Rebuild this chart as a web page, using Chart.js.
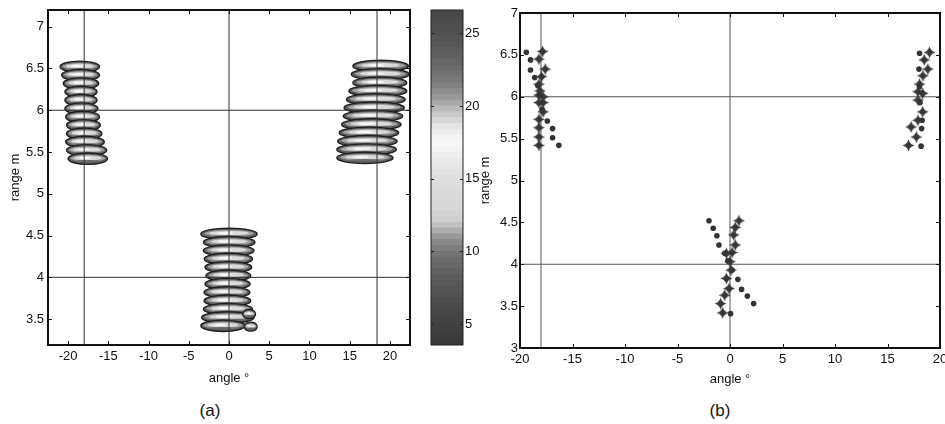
<!DOCTYPE html>
<html>
<head>
<meta charset="utf-8">
<script src="https://cdn.jsdelivr.net/npm/chart.js@4.4.1/dist/chart.umd.min.js"></script>
<style>
  html, body { margin: 0; padding: 0; background: #fff; }
  #fig { position: relative; width: 945px; height: 424px; overflow: hidden; background: #fff; }
  #fig canvas { position: absolute; }
  .cap { position: absolute; font: 17px "Liberation Sans", Arial, sans-serif; color: #111;
         transform: translate(-50%, -50%); white-space: nowrap; }
</style>
</head>
<body>
<div id="fig">
  <canvas id="imgA" width="420" height="386" style="left:0;top:0"></canvas>
  <canvas id="cbar" width="55" height="390" style="left:425px;top:0"></canvas>
  <canvas id="ptsB" width="475" height="387" style="left:470px;top:0"></canvas>
  <div class="cap" style="left:210px;top:411px">(a)</div>
  <div class="cap" style="left:720px;top:411px">(b)</div>
</div>
<script>
// ---------- panel (a): beamformed image, one ridge per range bin ----------
// angle centre (deg), range (m), angular half-width (deg)
const leftRidgeAngle   = [-18.55, -18.45, -18.4, -18.4, -18.4, -18.35, -18.2, -18.1, -18.0, -17.9, -17.7, -17.55];
const leftRidgeRange   = [6.52, 6.42, 6.32, 6.22, 6.12, 6.02, 5.92, 5.82, 5.72, 5.62, 5.52, 5.42];
const leftRidgeSpread  = [2.45, 2.35, 2.2, 2.0, 2.0, 2.05, 2.1, 2.1, 2.2, 2.4, 2.5, 2.45];

const centerRidgeAngle  = [0.0, 0.02, -0.04, -0.08, -0.08, -0.08, -0.18, -0.25, -0.2, -0.13, -0.15, -0.75, 2.5, 2.7];
const centerRidgeRange  = [4.52, 4.42, 4.32, 4.22, 4.12, 4.02, 3.92, 3.82, 3.72, 3.62, 3.52, 3.42, 3.56, 3.41];
const centerRidgeSpread = [3.5, 3.2, 3.15, 3.0, 2.9, 2.78, 2.8, 2.85, 2.9, 3.05, 3.25, 2.75, 0.8, 0.8];

const rightRidgeAngle  = [18.85, 18.8, 18.75, 18.5, 18.25, 18.05, 17.9, 17.7, 17.4, 17.2, 17.1, 16.9];
const rightRidgeRange  = [6.53, 6.43, 6.33, 6.23, 6.13, 6.03, 5.93, 5.83, 5.73, 5.63, 5.53, 5.43];
const rightRidgeSpread = [3.45, 3.6, 3.35, 3.6, 3.65, 3.75, 3.7, 3.7, 3.7, 3.7, 3.7, 3.5];

const angleTicksA = [-20, -15, -10, -5, 0, 5, 10, 15, 20];
const angleLabelsA = ['-20', '-15', '-10', '-5', '0', '5', '10', '15', '20'];
const rangeTicksA = [3.5, 4, 4.5, 5, 5.5, 6, 6.5, 7];
const rangeLabelsA = ['3.5', '4', '4.5', '5', '5.5', '6', '6.5', '7'];
const markerAnglesA = [-18, 0, 18.4];
const markerRangesA = [4, 6];

// ---------- colour scale ----------
const cbarLevels = [3.56, 6, 8, 9.5, 10.5, 11.3, 12, 13, 15, 16.5, 17.5, 18.5, 19.5, 20.5, 21.5, 23, 25, 26.6];
const cbarGray   = [0x38, 0x48, 0x5a, 0x6e, 0x85, 0xa8, 0xcf, 0xd8, 0xde, 0xee, 0xf8, 0xe6, 0xc4, 0x9a, 0x7d, 0x64, 0x50, 0x47];
const cbarTicks  = [5, 10, 15, 20, 25];
const cbarLabels = ['5', '10', '15', '20', '25'];

// ---------- panel (b): estimated target positions ----------
const leftStarAngle = [-18.2, -18.2, -18.2, -18.2, -17.8, -18.2, -17.8, -18.2, -17.8, -18.1, -18.2, -17.95, -17.6, -18.2, -17.85];
const leftStarRange = [5.42, 5.52, 5.63, 5.73, 5.82, 5.93, 5.93, 6.02, 6.0, 6.07, 6.15, 6.24, 6.33, 6.45, 6.54];
const leftDotAngle  = [-19.4, -19.0, -19.0, -18.6, -18.3, -18.1, -17.9, -17.4, -16.9, -16.9, -16.3];
const leftDotRange  = [6.53, 6.44, 6.32, 6.23, 6.13, 6.02, 5.85, 5.71, 5.62, 5.51, 5.42];

const centerStarAngle = [0.85, 0.5, 0.35, 0.5, 0.2, -0.35, 0.0, 0.1, -0.35, -0.1, -0.5, -0.9, -0.7];
const centerStarRange = [4.52, 4.44, 4.35, 4.23, 4.14, 4.13, 4.03, 3.93, 3.83, 3.71, 3.63, 3.53, 3.42];
const centerDotAngle  = [-2.0, -1.6, -1.25, -1.05, -0.5, -0.2, 0.2, 0.75, 1.1, 1.65, 2.25, 0.05];
const centerDotRange  = [4.52, 4.43, 4.34, 4.23, 4.13, 4.04, 3.93, 3.82, 3.70, 3.62, 3.53, 3.41];

const rightStarAngle = [17.0, 17.75, 17.25, 17.9, 18.35, 17.9, 18.35, 17.9, 18.05, 18.37, 18.84, 18.5, 19.0];
const rightStarRange = [5.42, 5.52, 5.64, 5.72, 5.82, 5.96, 6.04, 6.06, 6.15, 6.25, 6.33, 6.44, 6.53];
const rightDotAngle  = [18.2, 18.25, 18.3, 18.1, 18.05, 18.0, 18.05];
const rightDotRange  = [5.41, 5.62, 5.72, 5.93, 6.12, 6.33, 6.52];

const angleTicksB = [-20, -15, -10, -5, 0, 5, 10, 15, 20];
const angleLabelsB = ['-20', '-15', '-10', '-5', '0', '5', '10', '15', '20'];
const rangeTicksB = [3, 3.5, 4, 4.5, 5, 5.5, 6, 6.5, 7];
const rangeLabelsB = ['3', '3.5', '4', '4.5', '5', '5.5', '6', '6.5', '7'];
const markerAnglesB = [-18, 0];
const markerRangesB = [4, 6];

// ---------- helpers ----------
Chart.defaults.font.family = '"Liberation Sans", Arial, sans-serif';
Chart.defaults.font.size = 13;
Chart.defaults.color = '#111';

function grayAt(v) {
  if (v <= cbarLevels[0]) return cbarGray[0];
  for (let i = 1; i < cbarLevels.length; i++) {
    if (v <= cbarLevels[i]) {
      const t = (v - cbarLevels[i - 1]) / (cbarLevels[i] - cbarLevels[i - 1]);
      return Math.round(cbarGray[i - 1] + t * (cbarGray[i] - cbarGray[i - 1]));
    }
  }
  return cbarGray[cbarGray.length - 1];
}
function grayCss(v) { const g = grayAt(v); return `rgb(${g},${g},${g})`; }

const points = (xs, ys) => xs.map((x, i) => ({ x, y: ys[i] }));

function fixedTicks(values) {
  return s => { s.ticks = values.map(v => ({ value: v })); };
}

function markerLines(angles, ranges, xMin, xMax, yMin, yMax, color) {
  const sets = [];
  angles.forEach(a => sets.push({ data: [{ x: a, y: yMin }, { x: a, y: yMax }] }));
  ranges.forEach(r => sets.push({ data: [{ x: xMin, y: r }, { x: xMax, y: r }] }));
  return sets.map(s => Object.assign(s, {
    showLine: true, pointRadius: 0, borderColor: color, borderWidth: 1, order: 10
  }));
}

// axis box with inward tick marks on every side
const frame = {
  id: 'frame',
  afterDatasetsDraw(chart, args, opts) {
    const { ctx, chartArea: a, scales } = chart;
    const L = opts.tick;
    ctx.save();
    ctx.strokeStyle = opts.color;
    ctx.lineWidth = 1;
    const seg = (x1, y1, x2, y2) => { ctx.beginPath(); ctx.moveTo(x1, y1); ctx.lineTo(x2, y2); ctx.stroke(); };
    if (opts.xTicks) {
      scales.x.ticks.forEach(t => {
        const p = Math.round(scales.x.getPixelForValue(t.value)) + 0.5;
        seg(p, a.bottom, p, a.bottom - L);
        seg(p, a.top, p, a.top + L);
      });
    }
    scales.y.ticks.forEach(t => {
      const p = Math.round(scales.y.getPixelForValue(t.value)) + 0.5;
      seg(a.left, p, a.left + L, p);
      seg(a.right, p, a.right - L, p);
    });
    ctx.lineWidth = opts.width;
    ctx.strokeRect(a.left, a.top, a.right - a.left, a.bottom - a.top);
    ctx.restore();
  }
};

// elliptical contour ridges of the beamformed image
const ridges = {
  id: 'ridges',
  beforeDatasetsDraw(chart, args, opts) {
    const { ctx, chartArea: a, scales: { x, y } } = chart;
    ctx.save();
    ctx.beginPath();
    ctx.rect(a.left, a.top, a.right - a.left, a.bottom - a.top);
    ctx.clip();
    opts.groups.forEach(g => {
      g.angle.forEach((ang, i) => {
        const cx = x.getPixelForValue(ang);
        const cy = y.getPixelForValue(g.range[i]);
        const rx = Math.abs(x.getPixelForValue(ang + g.spread[i]) - cx);
        const ry = Math.abs(y.getPixelForValue(g.range[i] + opts.halfHeight) - cy) * (g.spread[i] < 1.5 ? 0.8 : 1);
        const shell = (ox, oy, sx, sy, fill, stroke, lw) => {
          ctx.beginPath();
          ctx.ellipse(cx + ox, cy + oy, rx * sx, ry * sy, 0, 0, Math.PI * 2);
          ctx.fillStyle = fill; ctx.fill();
          if (stroke) { ctx.lineWidth = lw; ctx.strokeStyle = stroke; ctx.stroke(); }
        };
        shell(0, 0, 1, 1, grayCss(8.6), '#1e1e1e', 1.4);
        shell(0, -ry * 0.08, 0.9, 0.7, grayCss(11.2), '#4a4a4a', 0.7);
        shell(0, -ry * 0.12, 0.7, 0.4, grayCss(13.5));
        shell(-rx * 0.15, -ry * 0.15, 0.3, 0.2, grayCss(17.4));
        shell(0, ry * 0.42, 0.72, 0.2, grayCss(9.2));
      });
    });
    ctx.restore();
  }
};

// four-pointed marker for the second estimator
function starMarker(size, color) {
  const c = document.createElement('canvas');
  c.width = c.height = size;
  const g = c.getContext('2d');
  const h = size / 2;
  g.filter = 'blur(0.4px)';
  g.fillStyle = color;
  g.beginPath();
  for (let k = 0; k < 8; k++) {
    const r = k % 2 === 0 ? h - 0.5 : h * 0.38;
    const ang = -Math.PI / 2 + k * Math.PI / 4;
    const px = h + r * Math.cos(ang), py = h + r * Math.sin(ang);
    if (k === 0) g.moveTo(px, py); else g.lineTo(px, py);
  }
  g.closePath();
  g.fill();
  g.beginPath();
  g.arc(h, h, h * 0.45, 0, Math.PI * 2);
  g.fill();
  return c;
}

// ---------- panel (a) ----------
const aX = { min: -22.5, max: 22.5 }, aY = { min: 3.19, max: 7.2 };
new Chart(document.getElementById('imgA'), {
  type: 'scatter',
  data: { datasets: markerLines(markerAnglesA, markerRangesA, aX.min, aX.max, aY.min, aY.max, '#333') },
  options: {
    responsive: false, animation: false,
    layout: { padding: { top: 10, right: 10, left: 0, bottom: 0 } },
    plugins: {
      legend: { display: false }, tooltip: { enabled: false },
      frame: { tick: 4, width: 2, color: '#111', xTicks: true },
      ridges: {
        halfHeight: 0.068,
        groups: [
          { angle: leftRidgeAngle, range: leftRidgeRange, spread: leftRidgeSpread },
          { angle: centerRidgeAngle, range: centerRidgeRange, spread: centerRidgeSpread },
          { angle: rightRidgeAngle, range: rightRidgeRange, spread: rightRidgeSpread }
        ]
      }
    },
    scales: {
      x: {
        type: 'linear', min: aX.min, max: aX.max,
        afterBuildTicks: fixedTicks(angleTicksA),
        afterFit: s => { s.height = 41; s.paddingLeft = 0; s.paddingRight = 0; },
        grid: { display: false, drawTicks: false }, border: { display: false },
        ticks: { padding: 4, maxRotation: 0, autoSkip: false, callback: (v, i) => angleLabelsA[i] },
        title: { display: true, text: 'angle °', padding: { top: 0, bottom: 0 } }
      },
      y: {
        type: 'linear', min: aY.min, max: aY.max,
        afterBuildTicks: fixedTicks(rangeTicksA),
        afterFit: s => { s.width = 48; s.paddingTop = 0; s.paddingBottom = 0; },
        grid: { display: false, drawTicks: false }, border: { display: false },
        ticks: { padding: 4, autoSkip: false, callback: (v, i) => rangeLabelsA[i] },
        title: { display: true, text: 'range m', padding: { top: 8, bottom: 0 } }
      }
    }
  },
  plugins: [ridges, frame]
});

// ---------- colour scale ----------
const cbMin = 3.56, cbMax = 26.6, cbStep = 0.4;
const bands = [];
for (let lo = cbMin; lo < cbMax - 1e-9; lo += cbStep) {
  const hi = Math.min(cbMax, lo + cbStep);
  bands.push({
    data: [[lo, hi + 0.05]],
    backgroundColor: grayCss((lo + hi) / 2),
    borderWidth: 0, grouped: false, barPercentage: 1, categoryPercentage: 1
  });
}
new Chart(document.getElementById('cbar'), {
  type: 'bar',
  data: { labels: [''], datasets: bands },
  options: {
    responsive: false, animation: false,
    layout: { padding: { top: 10, right: 0, left: 6, bottom: 45 } },
    plugins: { legend: { display: false }, tooltip: { enabled: false },
               frame: { tick: 3, width: 1, color: '#222', xTicks: false } },
    scales: {
      x: { display: false },
      y: {
        type: 'linear', position: 'right', min: cbMin, max: cbMax,
        afterBuildTicks: fixedTicks(cbarTicks),
        afterFit: s => { s.width = 17; s.paddingTop = 0; s.paddingBottom = 0; },
        grid: { display: false, drawTicks: false }, border: { display: false },
        ticks: { padding: 2, autoSkip: false, callback: (v, i) => cbarLabels[i] }
      }
    }
  },
  plugins: [frame]
});

// ---------- panel (b) ----------
const bX = { min: -20, max: 20 }, bY = { min: 3, max: 7 };
const star = starMarker(13, '#363636');
new Chart(document.getElementById('ptsB'), {
  type: 'scatter',
  data: {
    datasets: [
      ...markerLines(markerAnglesB, markerRangesB, bX.min, bX.max, bY.min, bY.max, '#555'),
      {
        data: [...points(leftDotAngle, leftDotRange), ...points(centerDotAngle, centerDotRange),
               ...points(rightDotAngle, rightDotRange)],
        pointStyle: 'circle', pointRadius: 2.8, backgroundColor: '#333', borderWidth: 0, order: 2
      },
      {
        data: [...points(leftStarAngle, leftStarRange), ...points(centerStarAngle, centerStarRange),
               ...points(rightStarAngle, rightStarRange)],
        pointStyle: star, order: 1
      }
    ]
  },
  options: {
    responsive: false, animation: false,
    layout: { padding: { top: 13, right: 2, left: 0, bottom: 0 } },
    plugins: { legend: { display: false }, tooltip: { enabled: false },
               frame: { tick: 4, width: 2, color: '#111', xTicks: true } },
    scales: {
      x: {
        type: 'linear', min: bX.min, max: bX.max,
        afterBuildTicks: fixedTicks(angleTicksB),
        afterFit: s => { s.height = 39; s.paddingLeft = 0; s.paddingRight = 0; },
        grid: { display: false, drawTicks: false }, border: { display: false },
        ticks: { padding: 4, maxRotation: 0, autoSkip: false, callback: (v, i) => angleLabelsB[i] },
        title: { display: true, text: 'angle °', padding: { top: 0, bottom: 0 } }
      },
      y: {
        type: 'linear', min: bY.min, max: bY.max,
        afterBuildTicks: fixedTicks(rangeTicksB),
        afterFit: s => { s.width = 50; s.paddingTop = 0; s.paddingBottom = 0; },
        grid: { display: false, drawTicks: false }, border: { display: false },
        ticks: { padding: 2, autoSkip: false, callback: (v, i) => rangeLabelsB[i] },
        title: { display: true, text: 'range m', padding: { top: 8, bottom: 0 } }
      }
    }
  },
  plugins: [frame]
});
</script>
</body>
</html>
